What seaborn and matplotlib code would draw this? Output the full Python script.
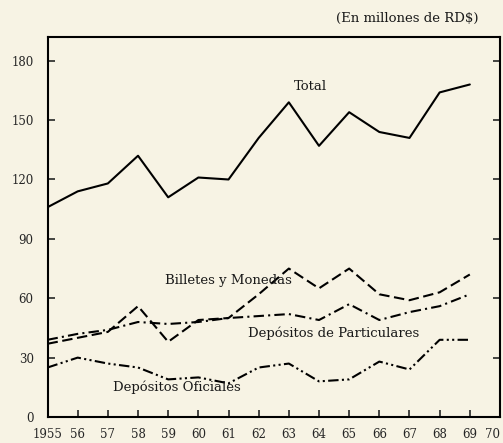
import numpy as np
import pandas as pd
import matplotlib.pyplot as plt
import seaborn as sns

# valores (millones de RD$)
years = list(range(1955, 1970))
total = [106, 114, 118, 132, 111, 121, 120, 141, 159, 137, 154, 144, 141, 164, 168]
billetes = [37, 40, 43, 56, 38, 49, 50, 62, 75, 65, 75, 62, 59, 63, 72]
particulares = [39, 42, 44, 48, 47, 48, 50, 51, 52, 49, 57, 49, 53, 56, 62]
oficiales = [25, 30, 27, 25, 19, 20, 17, 25, 27, 18, 19, 28, 24, 39, 39]

series_names = ['Total', 'Billetes y Monedas', 'Depósitos de Particulares', 'Depósitos Oficiales']
y_ticks = [0, 30, 60, 90, 120, 150, 180]
x_ticks = list(range(1955, 1971))
x_labels = ['1955'] + [str(y)[2:] for y in range(1956, 1971)]

df = pd.DataFrame({
    'Año': years * 4,
    'Valor': total + billetes + particulares + oficiales,
    'Serie': np.repeat(series_names, len(years)),
})

sns.set_style('ticks')
plt.rcParams['font.family'] = ['DejaVu Serif']
paper = '#f7f3e4'

fig = plt.figure(figsize=(5.03, 4.43), dpi=100, facecolor=paper)
ax = fig.add_axes([0.0945, 0.0587, 0.8995, 0.8578])
ax.set_facecolor(paper)

dashes = {
    'Total': '',
    'Billetes y Monedas': (5, 2.2),
    'Depósitos de Particulares': (5, 2, 1, 2),
    'Depósitos Oficiales': (5, 1.6, 1, 1.6, 1, 1.6),
}
sns.lineplot(data=df, x='Año', y='Valor', style='Serie', dashes=dashes,
             color='black', linewidth=1.5, legend=False, ax=ax)

ax.set_xlim(1955, 1970)
ax.set_ylim(0, 192)
ax.set_xticks(x_ticks)
ax.set_xticklabels(x_labels)
ax.set_yticks(y_ticks)
ax.set_xlabel('')
ax.set_ylabel('')
ax.get_xticklabels()[-1].set_horizontalalignment('right')

for s in ax.spines.values():
    s.set_linewidth(1.5)
    s.set_color('black')
ax.tick_params(axis='x', direction='in', length=5, width=1.2, pad=8, labelsize=8.5)
ax.tick_params(axis='y', direction='in', length=5, width=1.2, pad=10, labelsize=8.5,
               left=True, right=True)

lab = dict(fontsize=9.5, color='#1a1a1a')
ax.text(1963.7, 167, 'Total', ha='center', va='center', **lab)
ax.text(1961.0, 69, 'Billetes y Monedas', ha='center', va='center', **lab)
ax.text(1964.5, 42.5, 'Depósitos de Particulares', ha='center', va='center', **lab)
ax.text(1959.3, 15, 'Depósitos Oficiales', ha='center', va='center', **lab)

fig.text(0.81, 0.958, '(En millones de RD$)', ha='center', va='center',
         fontsize=9.5, color='#1a1a1a')

fig.savefig('out.png', dpi=100, facecolor=paper)
